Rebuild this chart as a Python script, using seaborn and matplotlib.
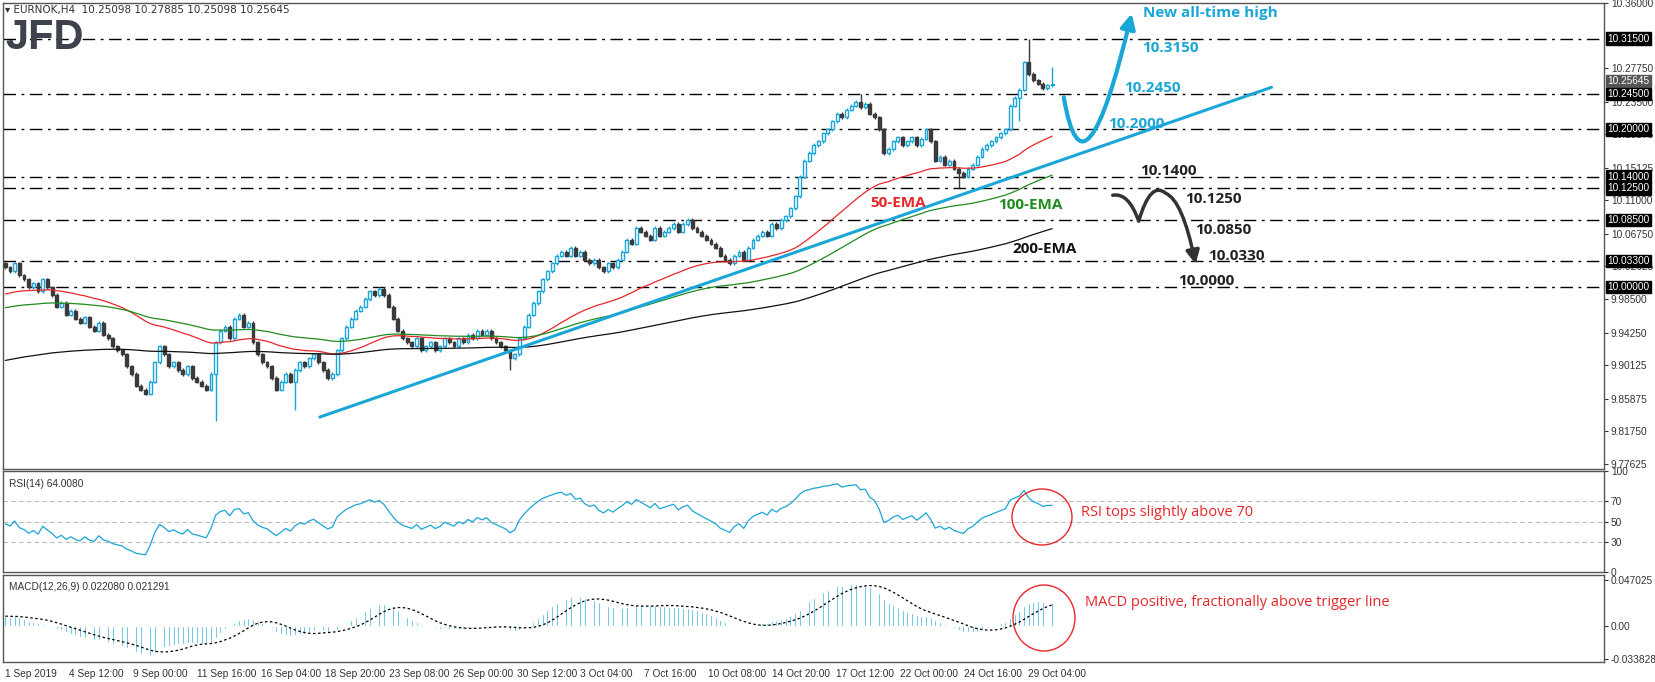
import numpy as np
import pandas as pd
import matplotlib
matplotlib.use("Agg")
import matplotlib.pyplot as plt
import seaborn as sns
from matplotlib.path import Path
from matplotlib.patches import FancyArrowPatch, Ellipse

# ---------------- data ----------------
closes = [
 10.025,10.020,10.030,10.015,10.010,10.000,10.005,9.995,10.010,10.000,
 9.990,9.975,9.980,9.965,9.970,9.960,9.955,9.962,9.950,9.945,
 9.955,9.940,9.935,9.925,9.920,9.915,9.900,9.890,9.875,9.870,
 9.865,9.880,9.905,9.925,9.915,9.900,9.905,9.895,9.890,9.900,
 9.885,9.880,9.875,9.870,9.890,9.930,9.945,9.950,9.935,9.960,
 9.965,9.950,9.955,9.930,9.915,9.905,9.900,9.885,9.870,9.880,
 9.890,9.880,9.895,9.905,9.900,9.910,9.915,9.905,9.895,9.885,
 9.890,9.920,9.935,9.950,9.960,9.970,9.975,9.985,9.995,9.990,
 9.998,9.990,9.975,9.960,9.945,9.935,9.930,9.925,9.935,9.920,
 9.925,9.930,9.920,9.925,9.935,9.930,9.925,9.935,9.930,9.940,
 9.935,9.945,9.940,9.945,9.935,9.930,9.925,9.920,9.910,9.915,
 9.935,9.950,9.965,9.980,9.995,10.010,10.020,10.030,10.040,10.045,
 10.040,10.050,10.040,10.045,10.035,10.030,10.035,10.025,10.020,10.030,
 10.025,10.035,10.045,10.060,10.055,10.075,10.070,10.065,10.060,10.075,
 10.065,10.070,10.075,10.080,10.070,10.080,10.085,10.075,10.070,10.065,
 10.060,10.055,10.050,10.040,10.035,10.030,10.040,10.045,10.035,10.050,
 10.060,10.065,10.070,10.065,10.080,10.075,10.085,10.090,10.100,10.115,
 10.140,10.160,10.170,10.180,10.185,10.195,10.200,10.210,10.220,10.215,
 10.225,10.230,10.235,10.228,10.232,10.220,10.215,10.200,10.170,10.175,
 10.185,10.190,10.180,10.185,10.190,10.180,10.188,10.200,10.185,10.160,
 10.165,10.155,10.160,10.150,10.145,10.140,10.150,10.155,10.165,10.175,
 10.180,10.185,10.190,10.195,10.200,10.230,10.240,10.250,10.285,10.270,
 10.262,10.258,10.252,10.256,10.256]
first_open = 10.030
wick_high = {219: 10.315, 224: 10.279, 183: 10.245}
wick_low = {45: 9.830, 62: 9.845, 108: 9.895, 217: 10.210, 204: 10.125}
ema_seeds = {50: 9.990, 100: 9.973, 200: 9.906}
macd_seed12, macd_seed26 = 10.015, 10.005

levels = [10.315, 10.245, 10.200, 10.140, 10.125, 10.085, 10.033, 10.000]
price_ticks = [10.36, 10.2775, 10.235, 10.19375, 10.15125, 10.11, 10.0675, 10.02625,
               9.985, 9.9425, 9.90125, 9.85875, 9.8175, 9.77625]
x_labels = ["1 Sep 2019", "4 Sep 12:00", "9 Sep 00:00", "11 Sep 16:00", "16 Sep 04:00",
            "18 Sep 20:00", "23 Sep 08:00", "26 Sep 00:00", "30 Sep 12:00", "3 Oct 04:00",
            "7 Oct 16:00", "10 Oct 08:00", "14 Oct 20:00", "17 Oct 12:00", "22 Oct 00:00",
            "24 Oct 16:00", "29 Oct 04:00"]

# ---------------- derived ----------------
c = np.array(closes)
n = len(c)
o = np.concatenate([[first_open], c[:-1]])
idx = np.arange(n)
hi = np.maximum(o, c) + 0.002
lo = np.minimum(o, c) - 0.002
for k, v in wick_high.items(): hi[k] = v
for k, v in wick_low.items(): lo[k] = v

def ema(series, period, seed):
    a = 2.0 / (period + 1)
    out, e = [], seed
    for v in series:
        e = e + a * (v - e)
        out.append(e)
    return np.array(out)

emas = {p: ema(c, p, s) for p, s in ema_seeds.items()}
d = np.diff(np.concatenate([[first_open], c]))
g, l = 0.004, 0.004
rsi = []
for v in d:
    g = (g * 13 + max(v, 0)) / 14
    l = (l * 13 + max(-v, 0)) / 14
    rsi.append(100 - 100 / (1 + g / l))
rsi = np.array(rsi)
macd = ema(c, 12, macd_seed12) - ema(c, 26, macd_seed26)
signal = pd.Series(macd).rolling(9, min_periods=1).mean().values

# ---------------- figure ----------------
sns.set_style("white")
plt.rcParams['font.family'] = ['Liberation Sans', 'DejaVu Sans']
TF = 7.3
W, H = 1655, 682
fig = plt.figure(figsize=(W / 100, H / 100), dpi=100)
PX = 4.68
def fx(px): return (px - 3) / PX
def fy(py): return 10 - (py - 287) / 790
L, R = 3 / W, 1604 / W
ax = fig.add_axes([L, 1 - 469 / H, R - L, 466 / H])
ax2 = fig.add_axes([L, 1 - 572 / H, R - L, 101 / H])
ax3 = fig.add_axes([L, 1 - 662 / H, R - L, 87 / H])
xmax = fx(1604)
for a in (ax, ax2, ax3):
    a.set_xlim(-0.5, xmax)
    for s in a.spines.values():
        s.set_color('#555555'); s.set_linewidth(1)
    a.yaxis.tick_right()
    a.tick_params(axis='y', labelsize=TF, length=3, pad=2, colors='#333333')
    a.tick_params(axis='x', length=0)
    a.set_xticks([])

# main panel
ax.set_ylim(fy(469), fy(3))
for lv in levels:
    ax.axhline(lv, color='black', lw=1, ls=(0, (9, 4, 2, 4)), zorder=1)
bull = c >= o
upc, dnc = '#1aa6d6', '#3a3a3a'
ax.vlines(idx, lo, hi, colors=np.where(bull, upc, dnc), lw=1, zorder=3)
body = np.maximum(np.abs(c - o), 0.0008)
ax.bar(idx[bull], body[bull], bottom=np.minimum(o, c)[bull], width=0.62,
       color='white', edgecolor=upc, lw=1, zorder=4)
ax.bar(idx[~bull], body[~bull], bottom=np.minimum(o, c)[~bull], width=0.62,
       color=dnc, edgecolor=dnc, lw=1, zorder=4)
ema_df = pd.DataFrame({'bar': idx, 'e50': emas[50], 'e100': emas[100], 'e200': emas[200]})
sns.lineplot(data=ema_df, x='bar', y='e50', ax=ax, color='#e8262a', lw=0.9, zorder=5)
sns.lineplot(data=ema_df, x='bar', y='e100', ax=ax, color='#1e8c1e', lw=0.9, zorder=5)
sns.lineplot(data=ema_df, x='bar', y='e200', ax=ax, color='#111111', lw=0.9, zorder=5)
ax.set_xlabel(''); ax.set_ylabel('')
ax.set_xlim(-0.5, xmax)
ax.plot([fx(318), fx(1271)], [fy(417), fy(87)], color='#1aa6d6', lw=2.2, zorder=6)
ax.set_yticks(price_ticks)
ax.set_yticklabels([f"{t:.5f}" for t in price_ticks])
for lv in levels:
    ax.text(1.002, lv, f"{lv:.5f}", transform=ax.get_yaxis_transform(), fontsize=TF,
            color='white', va='center', ha='left',
            bbox=dict(boxstyle='square,pad=0.12', fc='black', ec='black'), zorder=10, clip_on=False)
ax.text(1.002, 10.25645 + 0.0045, "10.25645", transform=ax.get_yaxis_transform(), fontsize=TF,
        color='white', va='center', ha='left',
        bbox=dict(boxstyle='square,pad=0.12', fc='#555555', ec='#555555'), zorder=9, clip_on=False)

cyan = '#1aa6d6'
af = 'Open Sans'
def lab(px, py, s, col, size=11, weight='bold'):
    ax.text(fx(px), fy(py), s, color=col, fontsize=size, fontweight=weight,
            family=af, va='center', ha='left', zorder=8)
lab(1142, 13, "New all-time high", cyan)
lab(1141, 48, "10.3150", cyan); lab(1123, 88, "10.2450", cyan); lab(1107, 124, "10.2000", cyan)
lab(1139, 171, "10.1400", '#222222'); lab(1185, 199, "10.1250", '#222222')
lab(1195, 230, "10.0850", '#222222'); lab(1208, 256, "10.0330", '#222222')
lab(1178, 281, "10.0000", '#222222')
lab(869, 203, "50-EMA", '#e8262a'); lab(997, 205, "100-EMA", '#1e8c1e'); lab(1012, 249, "200-EMA", '#111111')

def P(px, py): return (fx(px), fy(py))
bp = Path([P(1063, 97), P(1083, 215), P(1131, 13)], [Path.MOVETO, Path.CURVE3, Path.CURVE3])
ax.add_patch(FancyArrowPatch(path=bp, arrowstyle='-|>', mutation_scale=22, lw=3,
                             color=cyan, zorder=8))
kp = Path([P(1112, 195), P(1128, 192), P(1138, 221), P(1150, 180), P(1165, 193),
           P(1182, 200), P(1195, 264)],
          [Path.MOVETO, Path.CURVE3, Path.CURVE3, Path.CURVE3, Path.CURVE3, Path.CURVE3, Path.CURVE3])
ax.add_patch(FancyArrowPatch(path=kp, arrowstyle='-|>', mutation_scale=20, lw=2.5,
                             color='#333333', zorder=8))

fig.text(5 / W, 1 - 10 / H, "\u25be EURNOK,H4  10.25098 10.27885 10.25098 10.25645",
         fontsize=7.5, color='#333333', va='center', family=['DejaVu Sans'])
fig.text(5 / W, 1 - 38 / H, "JFD", fontsize=30, fontweight='bold', color='#3d424c',
         va='center', family='Liberation Sans')

# RSI
ax2.set_ylim(0, 100)
for lv in (70, 50, 30):
    ax2.axhline(lv, color='#bbbbbb', lw=0.8, ls=(0, (4, 3)))
rsi_df = pd.DataFrame({'bar': idx, 'rsi': rsi})
sns.lineplot(data=rsi_df, x='bar', y='rsi', ax=ax2, color=cyan, lw=0.9)
ax2.set_xlabel(''); ax2.set_ylabel(''); ax2.set_xlim(-0.5, xmax)
ax2.set_yticks([100, 70, 50, 30, 0])
ax2.text(0.004, 0.92, "RSI(14) 64.0080", transform=ax2.transAxes, fontsize=TF,
         color='#333333', va='top')

# MACD
ax3.set_ylim(-0.0367, 0.052)
ax3.bar(idx, macd, width=0.4, color=cyan)
ax3.plot(idx, signal, color='black', lw=0.9, ls=(0, (2, 2)))
ax3.set_xlim(-0.5, xmax)
ax3.set_yticks([0.047025, 0.0, -0.033828])
ax3.set_yticklabels(["0.047025", "0.00", "-0.033828"])
ax3.text(0.004, 0.92, "MACD(12,26,9) 0.022080 0.021291", transform=ax3.transAxes,
         fontsize=TF, color='#333333', va='top')
ticks = [i * 64.0 / PX for i in range(len(x_labels))]
ax3.set_xticks(ticks)
ax3.set_xticklabels(x_labels, fontsize=TF, color='#333333', ha='left')
ax3.tick_params(axis='x', length=4, pad=1, direction='out', color='#333333')

red = '#e8262a'
fig.text(1081 / W, 1 - 513 / H, "RSI tops slightly above 70", color=red, fontsize=10.5,
         family=af, va='center')
fig.text(1085 / W, 1 - 603 / H, "MACD positive, fractionally above trigger line", color=red,
         fontsize=10.5, family=af, va='center')
fig.add_artist(Ellipse((1042 / W, 1 - 517 / H), 60 / W, 56 / H, transform=fig.transFigure,
                       fill=False, ec=red, lw=1))
fig.add_artist(Ellipse((1044 / W, 1 - 618 / H), 62 / W, 66 / H, transform=fig.transFigure,
                       fill=False, ec=red, lw=1))

fig.savefig("out.png", dpi=100)
